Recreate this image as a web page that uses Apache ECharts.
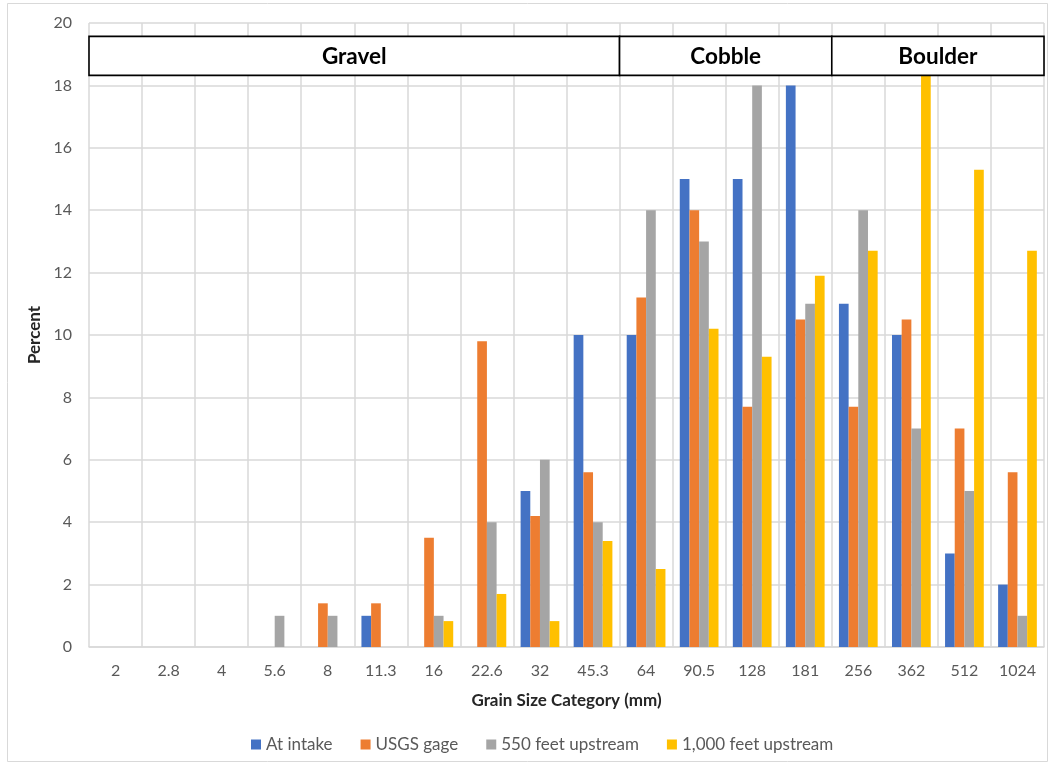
<!DOCTYPE html>
<html><head><meta charset="utf-8">
<script src="https://cdn.jsdelivr.net/npm/echarts@6/dist/echarts.min.js"></script>
<style>html,body{margin:0;padding:0;background:#fff}#c{width:1048px;height:765px}</style>
</head><body><div id="c"></div>
<script>
const categories = ['2','2.8','4','5.6','8','11.3','16','22.6','32','45.3','64','90.5','128','181','256','362','512','1024'];
const atIntake = [0,0,0,0,0,1,0,0,5,10,10,15,15,18,11,10,3,2];
const usgsGage = [0,0,0,0,1.4,1.4,3.5,9.8,4.2,5.6,11.2,14,7.7,10.5,7.7,10.5,7,5.6];
const ft550 = [0,0,0,1,1,0,1,4,6,4,14,13,18,11,14,7,5,1];
const ft1000 = [0,0,0,0,0,0,0.83,1.7,0.83,3.4,2.5,10.2,9.3,11.9,12.7,18.6,15.3,12.7];
const seriesNames = ['At intake','USGS gage','550 feet upstream','1,000 feet upstream'];
const headerNames = ['Gravel','Cobble','Boulder'];
const headerStart = [0,10,14];
const headerEnd = [10,14,18];
const yTicks = [0,2,4,6,8,10,12,14,16,18,20];

const colors = ['#4472C4','#ED7D31','#A5A5A5','#FFC000'];
const FONT = 'Lato, "Liberation Sans", sans-serif';
const chart = echarts.init(document.getElementById('c'));
const values = [atIntake, usgsGage, ft550, ft1000];
const barSeries = values.map((v,i)=>({
  name: seriesNames[i], type:'bar', data:v, xAxisIndex:0, yAxisIndex:0,
  barGap:'0%', barCategoryGap:'27%', itemStyle:{color:colors[i]}, z:2
}));
const headerData = headerNames.map((n,i)=>[headerStart[i], headerEnd[i], n]);
const headerSeries = {
  type:'custom', xAxisIndex:1, yAxisIndex:0, z:10, silent:true,
  data: headerData,
  renderItem: function(params, api){
    const p1 = api.coord([api.value(0), 19.57]);
    const p2 = api.coord([api.value(1), 18.32]);
    const name = headerData[params.dataIndex][2];
    return {type:'group', children:[
      {type:'rect', shape:{x:p1[0], y:p1[1], width:p2[0]-p1[0], height:p2[1]-p1[1]},
       style:{fill:'#fff', stroke:'#000', lineWidth:1.6}},
      {type:'text', style:{text:name, x:(p1[0]+p2[0])/2, y:(p1[1]+p2[1])/2+1,
        textAlign:'center', textVerticalAlign:'middle', fill:'#000',
        font:'bold 22.5px '+FONT}}
    ]};
  },
  encode:{x:[0,1]}
};
chart.setOption({
  animation:false,
  backgroundColor:'#fff',
  textStyle:{fontFamily:FONT},
  graphic:[{type:'rect', shape:{x:7.5,y:3.5,width:1040,height:758}, style:{fill:'none', stroke:'#d9d9d9', lineWidth:1}, z:-1}],
  grid:{left:89, right:4, top:23, bottom:118, containLabel:false},
  legend:{top:731, left:246, itemWidth:10, itemHeight:10, itemGap:28, icon:'rect',
    textStyle:{color:'#595959', fontSize:17, fontFamily:FONT}, data:seriesNames},
  xAxis:[{
    type:'category', data:categories, boundaryGap:true,
    name:'Grain Size Category (mm)', nameLocation:'middle', nameGap:45,
    nameTextStyle:{fontWeight:'bold', fontSize:17, color:'#262626'},
    axisLine:{lineStyle:{color:'#d9d9d9', width:1.5}},
    axisTick:{show:false},
    axisLabel:{color:'#595959', fontSize:16, margin:16, interval:0},
    splitLine:{show:true, lineStyle:{color:'#d9d9d9', width:1.5}}
  },{
    type:'value', min:0, max:18, show:false
  }],
  yAxis:[{
    type:'value', min:0, max:20, interval:2,
    name:'Percent', nameLocation:'middle', nameGap:43,
    nameTextStyle:{fontWeight:'bold', fontSize:17, color:'#262626'},
    axisLine:{show:false}, axisTick:{show:false},
    axisLabel:{color:'#595959', fontSize:16, margin:17, formatter:(v)=> yTicks.includes(v)?String(v):''},
    splitLine:{lineStyle:{color:'#d9d9d9', width:1.5}}
  }],
  series: barSeries.concat([headerSeries])
});
</script></body></html>
